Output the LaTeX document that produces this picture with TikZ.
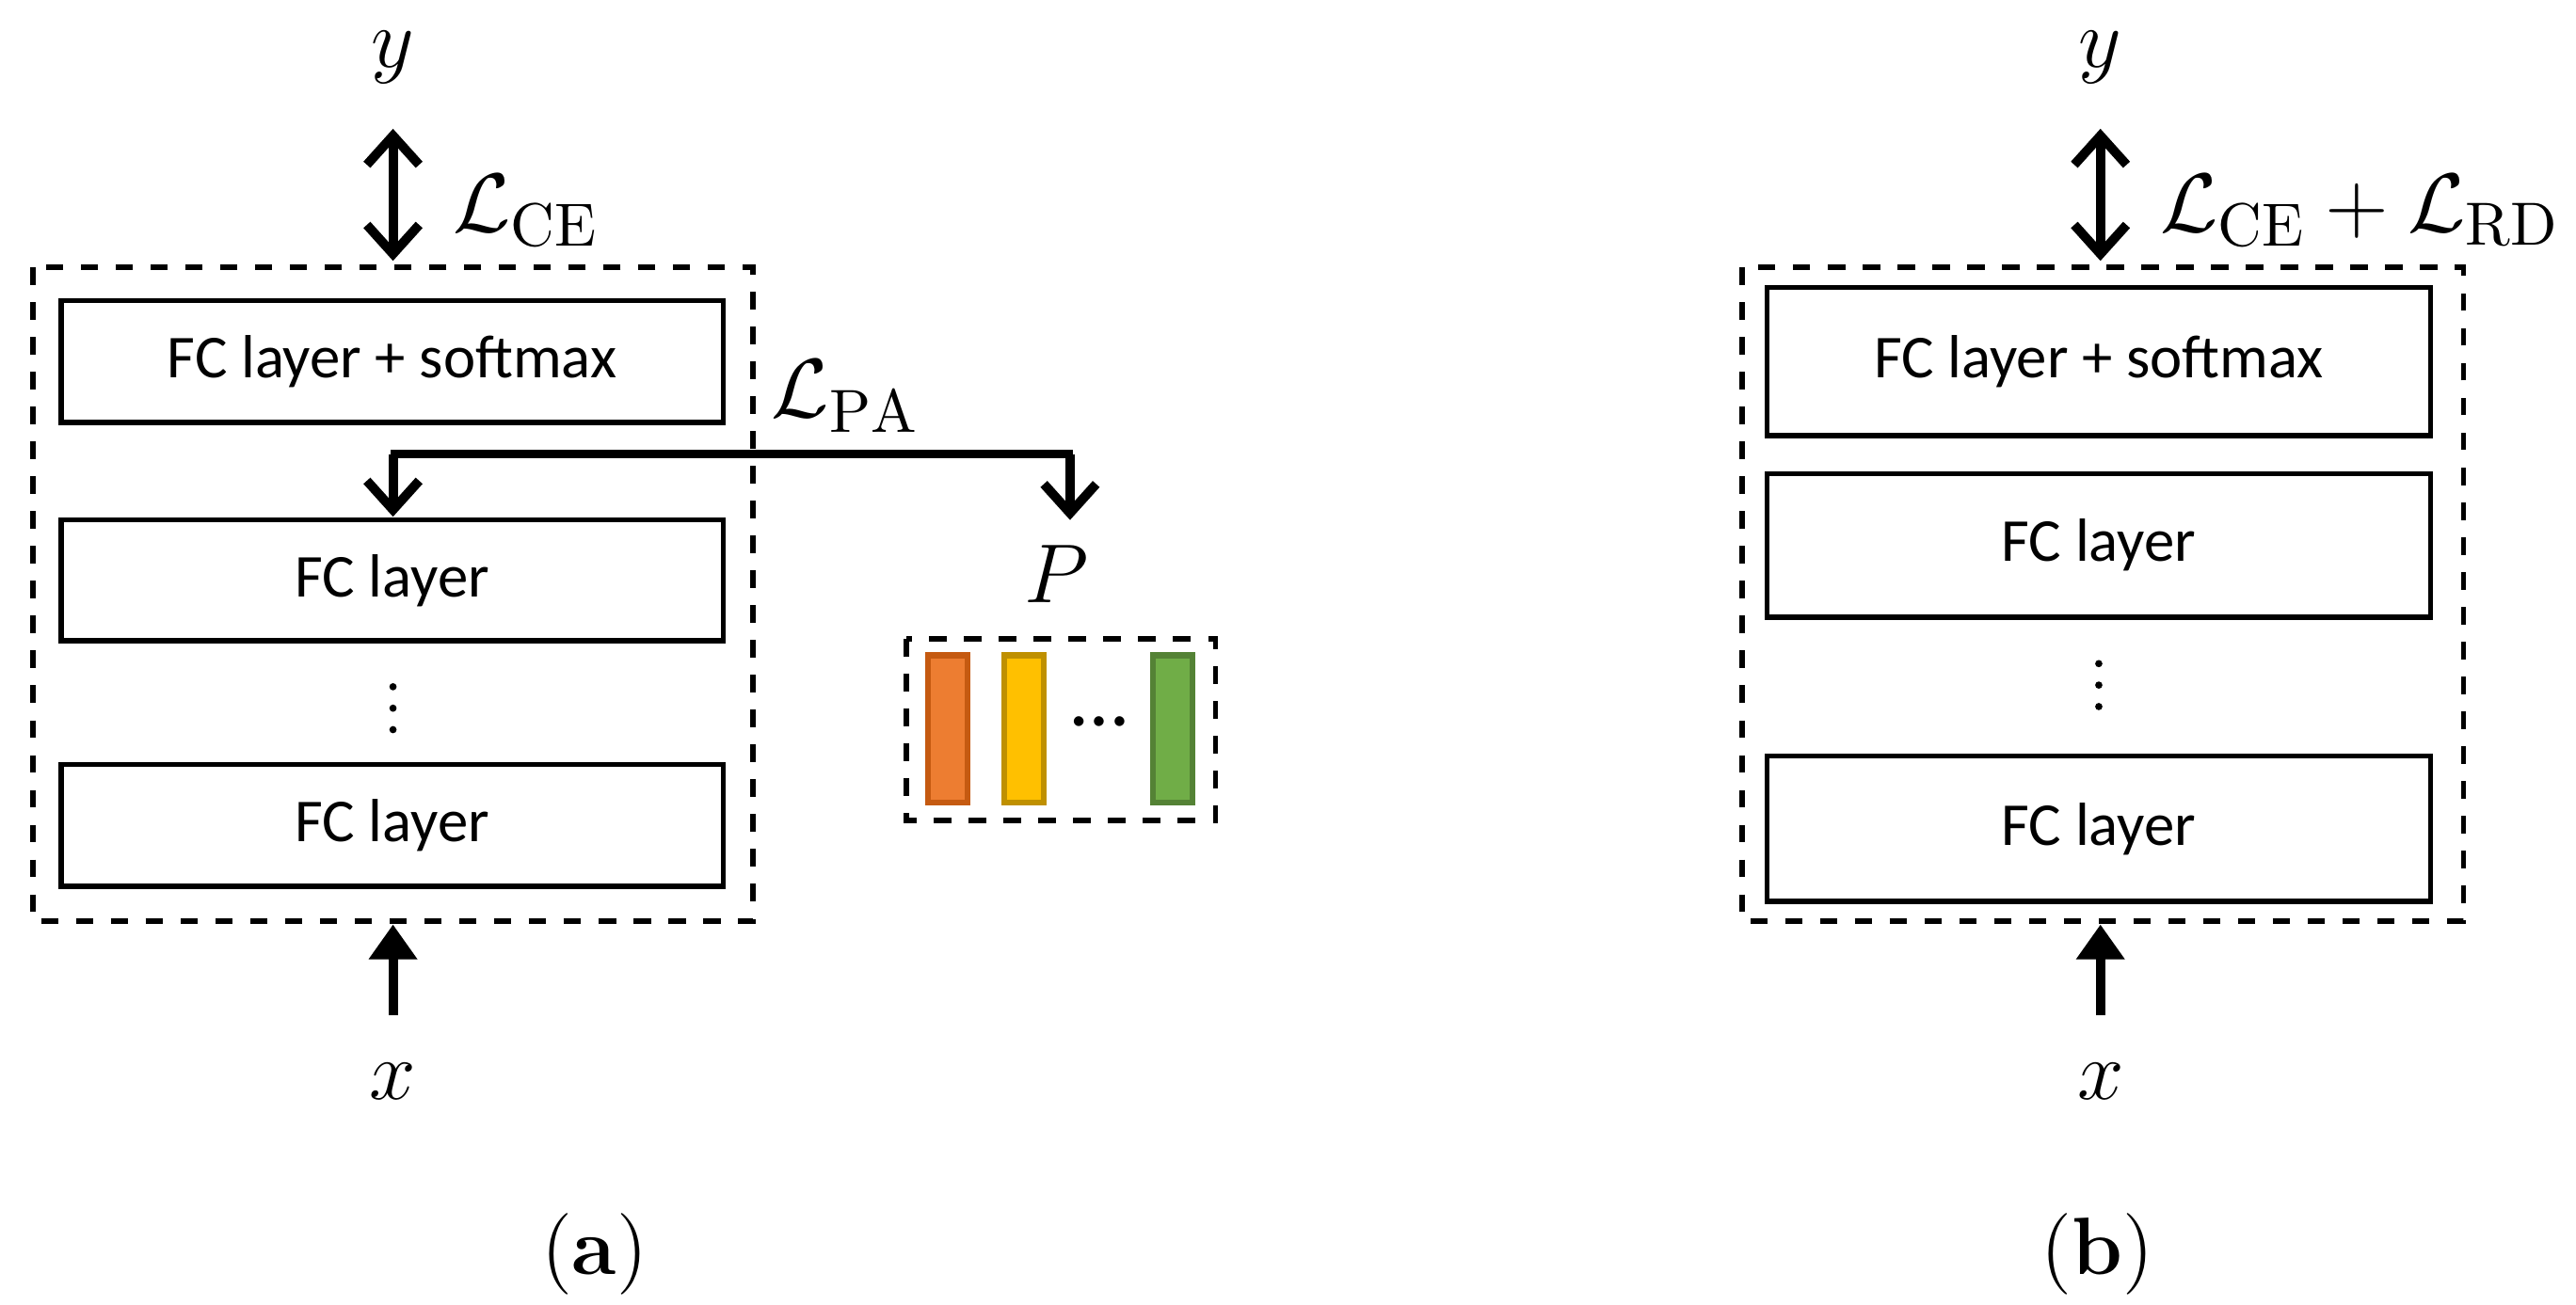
\documentclass[tikz,border=0pt]{standalone}
\usepackage{fontspec}
\newfontfamily\calfnt{Carlito}
\usetikzlibrary{arrows.meta}
\begin{document}
\begin{tikzpicture}[x=0.01cm,y=-0.01cm,
  lbl/.style={font=\calfnt\fontsize{10.5}{12}\selectfont},
  dbox/.style={draw,dashed,line width=0.9pt},
  big/.style={font=\fontsize{15}{17}\selectfont},
  thk/.style={line width=1.6pt},
  dotc/.style={fill=black},
  barb/.style={thk,{Straight Barb[length=5pt,width=9pt]}-{Straight Barb[length=5pt,width=9pt]}},
  barbend/.style={thk,-{Straight Barb[length=5pt,width=9pt]}},
  tri/.style={thk,-{Triangle[length=6pt,width=8pt]}}]
\useasboundingbox (0,0) rectangle (1560,790);
% (a)
\draw[dbox] (20,162) rectangle (456,558);
\draw[line width=0.9pt] (37,182) rectangle (438,256);
\node[lbl] (a1) at (237.5,219) {FC layer + softmax};
\draw[line width=0.9pt] (37,315) rectangle (438,388);
\node[lbl] (a2) at (237.5,352) {FC layer};
\draw[line width=0.9pt] (37,463) rectangle (438,537);
\node[lbl] (a3) at (237.5,500) {FC layer};
\foreach \yy in {416,429,442} \fill[dotc] (238,\yy) circle (2.2);
\node[big] (ya) at (238,35) {$y$};
\node[big] (xa) at (238,655) {$x$};
\coordinate (ya1) at (238,78); \coordinate (ya2) at (238,158);
\draw[barb] (ya1) -- (ya2);
\node[big,anchor=west] at (262,128) {$\mathcal{L}_{\mathrm{CE}}$};
\coordinate (xa1) at (238,615); \coordinate (xa2) at (238,560);
\draw[tri] (xa1) -- (xa2);
\node[big] at (512,240) {$\mathcal{L}_{\mathrm{PA}}$};
\coordinate (b1) at (238,313); \coordinate (b2) at (648,315);
\draw[barbend] (238,275) -- (b1);
\draw[barbend] (648,275) -- (b2);
\draw[thk] (236.5,275) -- (649.5,275);
\node[big] (P) at (640,348) {$P$};
\draw[dbox] (549,387) rectangle (736,497);
\draw[draw={rgb,255:red,197;green,90;blue,17},fill={rgb,255:red,237;green,125;blue,49},line width=1pt] (562,397) rectangle (586,486);
\draw[draw={rgb,255:red,191;green,144;blue,0},fill={rgb,255:red,255;green,192;blue,0},line width=1pt] (608,397) rectangle (632,486);
\draw[draw={rgb,255:red,84;green,130;blue,53},fill={rgb,255:red,112;green,173;blue,71},line width=1pt] (698,397) rectangle (722,486);
\node[font=\calfnt\fontsize{14}{16}\selectfont] at (666,437) {…};
\node[font=\fontsize{14}{16}\selectfont] at (360,760) {(\textbf{a})};
% (b)
\draw[dbox] (1055,162) rectangle (1492,558);
\draw[line width=0.9pt] (1070,174) rectangle (1472,264);
\node[lbl] (c1) at (1271,219) {FC layer + softmax};
\draw[line width=0.9pt] (1070,287) rectangle (1472,374);
\node[lbl] (c2) at (1271,330) {FC layer};
\draw[line width=0.9pt] (1070,458) rectangle (1472,546);
\node[lbl] (c3) at (1271,502) {FC layer};
\foreach \yy in {402,415,428} \fill[dotc] (1271,\yy) circle (2.2);
\node[big] (yb) at (1272,35) {$y$};
\node[big] (xb) at (1272,655) {$x$};
\coordinate (yb1) at (1272,78); \coordinate (yb2) at (1272,158);
\draw[barb] (yb1) -- (yb2);
\node[big,anchor=west] at (1296,128) {$\mathcal{L}_{\mathrm{CE}}+\mathcal{L}_{\mathrm{RD}}$};
\coordinate (xb1) at (1272,615); \coordinate (xb2) at (1272,560);
\draw[tri] (xb1) -- (xb2);
\node[font=\fontsize{14}{16}\selectfont] at (1270,760) {(\textbf{b})};
\end{tikzpicture}
\end{document}
